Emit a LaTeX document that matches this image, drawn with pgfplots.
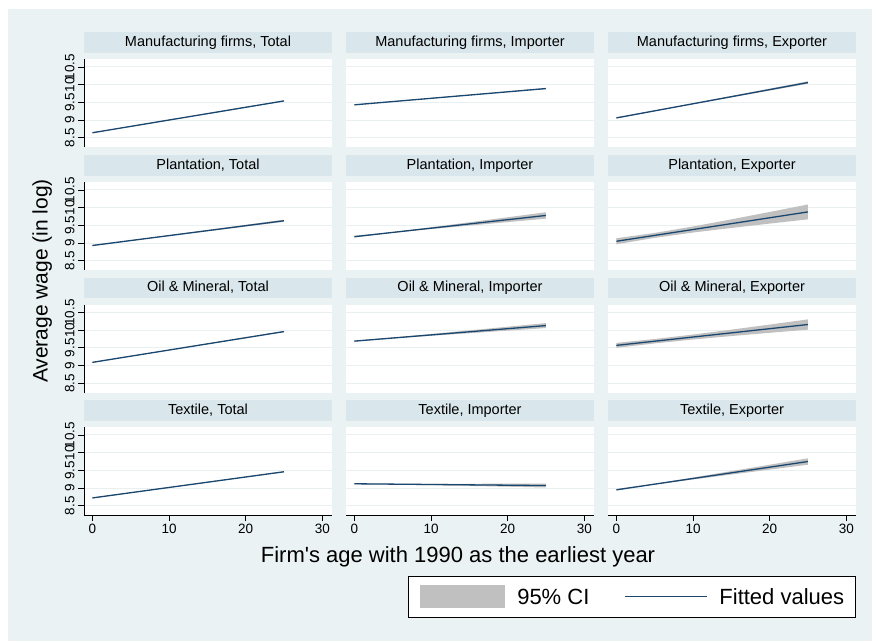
\documentclass[border=0pt]{standalone}
\usepackage{fontspec}
\setmainfont{Liberation Sans}
\usepackage{pgfplots}
\pgfplotsset{compat=1.18}

\definecolor{bgc}{RGB}{234,242,243}
\definecolor{stripc}{RGB}{217,230,235}
\definecolor{gridc}{RGB}{232,240,242}
\definecolor{fitc}{RGB}{26,71,111}
\definecolor{cic}{RGB}{192,192,192}

\pgfplotsset{
  panel/.style={
    at={#1}, anchor=south west,
    width=248pt, height=88pt, scale only axis,
    xmin=-1.1, xmax=31.27, ymin=8.237, ymax=10.726,
    ytick={8.5,9,9.5,10,10.5}, xtick={0,10,20,30},
    axis x line*=bottom, axis y line*=left,
    x axis line style={draw=none}, y axis line style={draw=none},
    xtick style={draw=none}, ytick style={draw=none},
    xticklabels={}, yticklabels={},
    ymajorgrids, grid style={gridc, line width=1pt},
    axis background/.style={fill=white},
    title style={at={(0.5,1)}, anchor=south, yshift=0pt, fill=stripc,
      minimum width=248pt, minimum height=20.5pt, inner sep=0pt,
      text height=10.6pt, text depth=3pt, font=\fontsize{14.5}{16}\selectfont},
    tick label style={font=\fontsize{13.5}{15}\selectfont},
    /pgf/number format/assume math mode=true,
    tick align=outside, major tick length=6pt,
  },
  leftcol/.style={
    y axis line style={draw=black, line width=0.8pt},
    ytick style={draw=black, line width=0.8pt},
    yticklabels={8.5,9,9.5,10,10.5},
    yticklabel style={rotate=90, anchor=south},
  },
  bottomrow/.style={
    x axis line style={draw=black, line width=0.8pt},
    xtick style={draw=black, line width=0.8pt},
    xticklabels={0,10,20,30},
  },
  ci/.style={fill=cic, draw=none},
  fit/.style={fitc, line width=1.3pt},
}

\begin{document}
\begin{tikzpicture}[x=1pt,y=1pt]
\fill[white] (0,0) rectangle (872,641);
\fill[bgc] (8,0) rectangle (872,632);
\useasboundingbox (0,0) rectangle (872,641);

% row 1: manufacturing firms
\begin{axis}[panel={(84pt,494pt)}, leftcol, title={Manufacturing firms, Total}]
\addplot[ci] coordinates {(0,8.65) (8,8.935) (25,9.555) (25,9.525) (8,8.921) (0,8.63)};
\addplot[fit] coordinates {(0,8.64) (25,9.54)};
\end{axis}
\begin{axis}[panel={(346pt,494pt)}, title={Manufacturing firms, Importer}]
\addplot[ci] coordinates {(0,9.44) (8,9.584) (25,9.905) (25,9.875) (8,9.570) (0,9.42)};
\addplot[fit] coordinates {(0,9.43) (25,9.89)};
\end{axis}
\begin{axis}[panel={(608pt,494pt)}, title={Manufacturing firms, Exporter}]
\addplot[ci] coordinates {(0,9.075) (8,9.39) (25,10.095) (25,10.025) (8,9.37) (0,9.045)};
\addplot[fit] coordinates {(0,9.06) (25,10.06)};
\end{axis}

% row 2: plantation
\begin{axis}[panel={(84pt,371pt)}, leftcol, title={Plantation, Total}]
\addplot[ci] coordinates {(0,8.945) (8,9.164) (25,9.66) (25,9.60) (8,9.144) (0,8.915)};
\addplot[fit] coordinates {(0,8.93) (25,9.63)};
\end{axis}
\begin{axis}[panel={(346pt,371pt)}, title={Plantation, Importer}]
\addplot[ci] coordinates {(0,9.205) (5,9.311) (10,9.445) (15,9.586) (20,9.728) (25,9.87)
  (25,9.69) (20,9.592) (15,9.494) (10,9.395) (5,9.289) (0,9.155)};
\addplot[fit] coordinates {(0,9.18) (25,9.78)};
\end{axis}
\begin{axis}[panel={(608pt,371pt)}, title={Plantation, Exporter}]
\addplot[ci] coordinates {(0,9.135) (5,9.285) (10,9.467) (15,9.669) (20,9.878) (25,10.09)
  (25,9.67) (20,9.55) (15,9.427) (10,9.297) (5,9.147) (0,8.965)};
\addplot[fit] coordinates {(0,9.05) (25,9.88)};
\end{axis}

% row 3: oil & mineral
\begin{axis}[panel={(84pt,248.5pt)}, leftcol, title={Oil \& Mineral, Total}]
\addplot[ci] coordinates {(0,9.10) (8,9.375) (25,9.975) (25,9.945) (8,9.361) (0,9.08)};
\addplot[fit] coordinates {(0,9.09) (25,9.96)};
\end{axis}
\begin{axis}[panel={(346pt,248.5pt)}, title={Oil \& Mineral, Importer}]
\addplot[ci] coordinates {(0,9.705) (5,9.791) (10,9.891) (15,9.994) (20,10.097) (25,10.20)
  (25,10.06) (20,9.987) (15,9.914) (10,9.841) (5,9.765) (0,9.675)};
\addplot[fit] coordinates {(0,9.69) (25,10.13)};
\end{axis}
\begin{axis}[panel={(608pt,248.5pt)}, title={Oil \& Mineral, Exporter}]
\addplot[ci] coordinates {(0,9.64) (5,9.750) (10,9.876) (15,10.014) (20,10.158) (25,10.305)
  (25,10.015) (20,9.926) (15,9.834) (10,9.736) (5,9.626) (0,9.50)};
\addplot[fit] coordinates {(0,9.57) (25,10.16)};
\end{axis}

% row 4: textile
\begin{axis}[panel={(84pt,126pt)}, leftcol, bottomrow, title={Textile, Total}]
\addplot[ci] coordinates {(0,8.73) (8,8.964) (25,9.472) (25,9.448) (8,8.950) (0,8.71)};
\addplot[fit] coordinates {(0,8.72) (25,9.46)};
\end{axis}
\begin{axis}[panel={(346pt,126pt)}, bottomrow, title={Textile, Importer}]
\addplot[ci] coordinates {(0,9.135) (5,9.121) (10,9.119) (15,9.120) (20,9.123) (25,9.125)
  (25,9.015) (20,9.038) (15,9.060) (10,9.081) (5,9.099) (0,9.105)};
\addplot[fit] coordinates {(0,9.12) (25,9.07)};
\end{axis}
\begin{axis}[panel={(608pt,126pt)}, bottomrow, title={Textile, Exporter},
  legend columns=2, legend cell align=left,
  legend style={at={(1,0)}, anchor=north east, yshift=-60.7pt,
    draw=black, line width=0.7pt, fill=white,
    inner xsep=11.5pt, inner ysep=9.3pt,
    font=\fontsize{22}{24}\selectfont,
    nodes={inner sep=0pt, text height=16pt, text depth=0pt},
    /tikz/every odd column/.append style={column sep=12pt},
    /tikz/every even column/.append style={column sep=35pt}}]
\addplot[ci, legend image code/.code={\fill[cic] (0pt,-11.5pt) rectangle (85pt,11.5pt);}]
  coordinates {(0,8.97) (5,9.121) (10,9.298) (15,9.478) (20,9.659) (25,9.84)
  (25,9.66) (20,9.521) (15,9.382) (10,9.242) (5,9.099) (0,8.93)};
\addlegendentry{95\% CI}
\addplot[fit, legend image code/.code={\draw[fitc, line width=1pt] (0pt,0pt) -- (82pt,0pt);}]
  coordinates {(0,8.95) (25,9.75)};
\addlegendentry{Fitted values}
\end{axis}

\node[rotate=90, anchor=base, font=\fontsize{21}{24}\selectfont] at (47.5,360) {Average wage (in log)};
\node[anchor=base, font=\fontsize{22}{24}\selectfont] at (458,78.3) {Firm\textquotesingle s age with 1990 as the earliest year};
\end{tikzpicture}
\end{document}
